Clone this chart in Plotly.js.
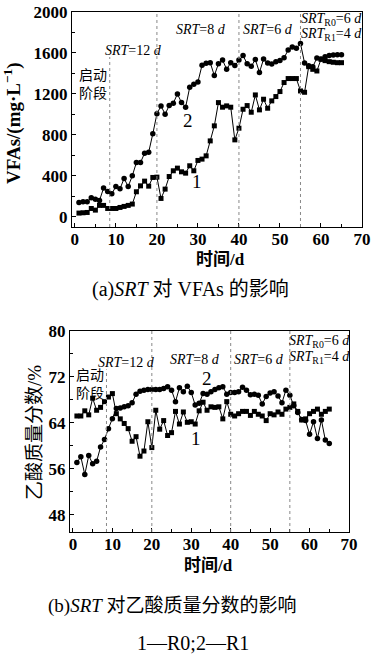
<!DOCTYPE html>
<html><head><meta charset="utf-8">
<script src="https://cdn.plot.ly/plotly-3.0.1.min.js"></script>
<style>html,body{margin:0;padding:0;background:#fff;}#chart{width:373px;height:662px;}</style>
</head><body><div id="chart"></div>
<script>
const days = [1,2,3,4,5,6,7,8,9,10,11,12,13,14,15,16,17,18,19,20,21,22,23,24,25,26,27,28,29,30,31,32,33,34,35,36,37,38,39,40,41,42,43,44,45,46,47,48,49,50,51,52,53,54,55,56,57,58,59,60,61,62,63,64,65];

// (a) VFAs, mg/L
const vfaR0 = [36,39,42,81,65,111,111,81,81,81,91,101,111,124,244,302,348,299,384,387,179,270,393,449,475,439,426,498,449,550,563,595,741,888,1115,1070,1083,1070,751,865,1050,1086,1021,1190,1044,1148,1060,1132,1174,1223,1311,1350,1350,1350,1229,1216,1466,1440,1424,1538,1525,1515,1509,1505,1505];
const vfaR1 = [140,146,146,185,172,159,280,247,224,296,273,374,296,400,530,530,621,631,810,1005,1083,1002,1086,1109,1200,1115,1070,1265,1295,1317,1480,1500,1505,1379,1495,1532,1440,1505,1478,1530,1574,1495,1470,1536,1410,1540,1502,1493,1513,1526,1552,1629,1658,1645,1692,1502,1476,1465,1551,1541,1564,1576,1580,1582,1583];

// (b) acetic acid mass fraction, %
const acR0 = [65.2,65.2,66.1,65.4,68.3,66.2,66.7,67.7,68.5,69.1,65.6,64.7,63.9,63.0,60.8,61.6,58.2,59.1,64.2,59.7,66.2,62.9,64.4,61.8,62.3,66.0,63.8,65.9,64.1,64.2,63.8,66.1,67.6,66.2,66.8,66.7,66.8,64.7,67.7,65.5,65.2,65.6,66.0,66.0,65.3,66.0,65.5,65.2,64.4,65.6,65.4,65.9,65.5,66.4,66.7,67.3,66.0,64.5,64.7,65.6,66.0,66.4,65.5,66.0,66.4];
const acR1 = [57.1,58.1,55.0,58.3,56.9,57.3,59.8,61.1,63.0,64.7,66.5,66.6,66.8,67.0,67.5,69.0,69.5,69.7,69.8,69.8,69.8,69.8,70.0,70.3,69.7,67.7,70.1,69.4,70.4,69.3,67.1,67.4,69.1,69.0,69.4,69.8,70.1,70.3,69.0,69.3,69.3,69.4,70.2,69.7,68.9,69.0,68.8,67.3,68.6,69.2,69.4,68.7,67.5,69.7,68.8,67.0,65.8,64.6,64.4,62.0,64.2,61.3,64.5,61.0,60.4];

const phaseBounds = [8.5, 20, 40, 55];
const xTicks = [0,10,20,30,40,50,60,70];
const yTicksA = [0,400,800,1200,1600,2000];
const yTicksB = [48,56,64,72,80];

const W = 373, H = 662;
const px = x => x / W;
const py = y => 1 - y / H;
const SERIF = 'Liberation Serif, Times New Roman, Noto Sans CJK SC, serif';
const CJK = 'Liberation Serif, Noto Sans CJK SC, sans-serif';

const line = {color:'#000', width:1};
const traces = [
  {x: days, y: vfaR0, xaxis:'x', yaxis:'y', mode:'lines+markers', line, marker:{symbol:'square', size:5, color:'#000'}, name:'R0'},
  {x: days, y: vfaR1, xaxis:'x', yaxis:'y', mode:'lines+markers', line, marker:{symbol:'circle', size:5.5, color:'#000'}, name:'R1'},
  {x: days, y: acR0, xaxis:'x2', yaxis:'y2', mode:'lines+markers', line, marker:{symbol:'square', size:5, color:'#000'}, name:'R0'},
  {x: days, y: acR1, xaxis:'x2', yaxis:'y2', mode:'lines+markers', line, marker:{symbol:'circle', size:5.5, color:'#000'}, name:'R1'}
];

const tickFont = {family: SERIF, size: 17, color:'#000', weight: 'bold'};
function xAxis(domain, anchor, range) {
  return {domain, anchor, range, tickvals: xTicks, ticktext: xTicks.map(String),
    ticks:'inside', ticklen:4, tickcolor:'#000', showline:true, mirror:true, linecolor:'#000', linewidth:1,
    showgrid:false, zeroline:false, tickfont: tickFont, ticklabelstandoff:-3,
    minor:{tickvals:[5,15,25,35,45,55,65], ticks:'inside', ticklen:3, tickcolor:'#000', showgrid:false}};
}
function yAxis(domain, anchor, range, tv, minorTv) {
  return {domain, anchor, range, tickvals: tv, ticktext: tv.map(String),
    ticks:'inside', ticklen:4, tickcolor:'#000', showline:true, mirror:true, linecolor:'#000', linewidth:1,
    showgrid:false, zeroline:false, tickfont: tickFont,
    minor:{tickvals: minorTv, ticks:'inside', ticklen:3, tickcolor:'#000', showgrid:false}};
}

const shapes = [];
phaseBounds.forEach((b, i) => {
  shapes.push({type:'line', xref:'x', yref:'y', x0:b, x1:b, y0:-100, y1: i === 0 ? 1560 : 2000,
    line:{color:'#888', width:1, dash:'dot'}});
  shapes.push({type:'line', xref:'x2', yref:'y2', x0:b, x1:b, y0:45, y1: i === 0 ? 73.3 : 80,
    line:{color:'#888', width:1, dash:'dot'}});
});

function ann(text, x, y, size, extra) {
  return Object.assign({text, xref:'paper', yref:'paper', x:px(x), y:py(y), xanchor:'center', yanchor:'middle',
    showarrow:false, font:{family: SERIF, size, color:'#000'}}, extra || {});
}
const annotations = [
  // (a)
  ann('<i>SRT</i>=12 <i>d</i>', 133, 51, 14),
  ann('<i>SRT</i>=8 <i>d</i>', 201, 29, 14),
  ann('<i>SRT</i>=6 <i>d</i>', 268, 29, 14),
  ann('<i>SRT</i><sub>R0</sub>=6 <i>d</i>', 331, 20, 14),
  ann('<i>SRT</i><sub>R1</sub>=4 <i>d</i>', 331, 35, 14),
  ann('启动<br>阶段', 93, 85, 14, {font:{family:CJK, size:14, color:'#000'}}),
  ann('2', 187.5, 121, 19),
  ann('1', 197, 181, 19),
  ann('VFAs/(mg·L<sup>−1</sup>)', 13, 123, 19, {textangle:-90, font:{family:SERIF, size:19, color:'#000', weight:'bold'}}),
  ann('时间/d', 221, 259, 17, {font:{family:CJK, size:17, color:'#000', weight:'bold'}}),
  ann('(a)<i>SRT</i> 对 VFAs 的影响', 190, 289, 20, {font:{family:CJK, size:20, color:'#000'}}),
  // (b)
  ann('<i>SRT</i>=12 <i>d</i>', 126, 362, 14),
  ann('<i>SRT</i>=8 <i>d</i>', 195, 359, 14),
  ann('<i>SRT</i>=6 <i>d</i>', 259, 359, 14),
  ann('<i>SRT</i><sub>R0</sub>=6 <i>d</i>', 319, 341, 14),
  ann('<i>SRT</i><sub>R1</sub>=4 <i>d</i>', 319, 357, 14),
  ann('启动<br>阶段', 90, 384, 14, {font:{family:CJK, size:14, color:'#000'}}),
  ann('2', 207, 378, 19),
  ann('1', 196, 438, 19),
  ann('乙酸质量分数/%', 34, 433, 19, {textangle:-90, font:{family:CJK, size:19, color:'#000'}}),
  ann('时间/d', 208, 565, 17, {font:{family:CJK, size:17, color:'#000', weight:'bold'}}),
  ann('(b)<i>SRT</i> 对乙酸质量分数的影响', 172, 606, 19, {font:{family:CJK, size:19, color:'#000'}}),
  ann('1—R0;2—R1', 193, 643, 20, {font:{family:CJK, size:20, color:'#000'}})
];

const layout = {
  width: W, height: H, margin:{l:0, r:0, t:0, b:0}, paper_bgcolor:'#fff', plot_bgcolor:'#fff',
  showlegend:false,
  xaxis: xAxis([px(72), px(362)], 'y', [-0.7, 70]),
  yaxis: yAxis([py(227), py(12)], 'x', [-100, 2000], yTicksA, [200,600,1000,1400,1800]),
  xaxis2: xAxis([px(70), px(349)], 'y2', [-0.75, 70]),
  yaxis2: yAxis([py(532), py(331)], 'x2', [45, 80], yTicksB, [52,60,68,76]),
  shapes, annotations
};
Plotly.newPlot('chart', traces, layout, {displayModeBar:false, staticPlot:true});
</script>
</body></html>
